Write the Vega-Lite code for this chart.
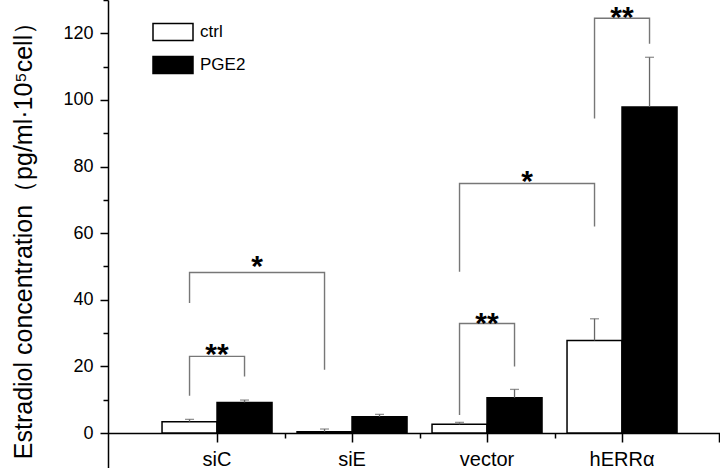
{
  "$schema": "https://vega.github.io/schema/vega-lite/v6.json",
  "width": 612,
  "height": 468,
  "autosize": {"type": "none"},
  "padding": {"left": 108, "top": 0, "right": 0, "bottom": 0},
  "background": "white",
  "config": {
    "view": {"stroke": null},
    "font": "Liberation Sans",
    "axis": {"grid": false, "labelFont": "Liberation Sans", "titleFont": "Liberation Sans", "domainColor": "black", "tickColor": "black", "labelColor": "black", "titleColor": "black"}
  },
  "datasets": {
    "bars": [
      {"cond": "siC", "group": "ctrl", "value": 3.4, "err": 4.1},
      {"cond": "siC", "group": "PGE2", "value": 9.2, "err": 9.9},
      {"cond": "siE", "group": "ctrl", "value": 0.4, "err": 1.2},
      {"cond": "siE", "group": "PGE2", "value": 4.9, "err": 5.6},
      {"cond": "vector", "group": "ctrl", "value": 2.6, "err": 3.2},
      {"cond": "vector", "group": "PGE2", "value": 10.6, "err": 13.1},
      {"cond": "hERRα", "group": "ctrl", "value": 27.8, "err": 34.3},
      {"cond": "hERRα", "group": "PGE2", "value": 97.9, "err": 112.8}
    ],
    "brackets": [
      {"id": 1, "k": 1, "cond": "siC", "group": "ctrl", "y": 11.2},
      {"id": 1, "k": 2, "cond": "siC", "group": "ctrl", "y": 23.0},
      {"id": 1, "k": 3, "cond": "siC", "group": "PGE2", "y": 23.0},
      {"id": 1, "k": 4, "cond": "siC", "group": "PGE2", "y": 17.0},
      {"id": 2, "k": 1, "cond": "siC", "group": "ctrl", "y": 39.0},
      {"id": 2, "k": 2, "cond": "siC", "group": "ctrl", "y": 48.2},
      {"id": 2, "k": 3, "cond": "siE", "group": "ctrl", "y": 48.2},
      {"id": 2, "k": 4, "cond": "siE", "group": "ctrl", "y": 19.0},
      {"id": 3, "k": 1, "cond": "vector", "group": "ctrl", "y": 5.4},
      {"id": 3, "k": 2, "cond": "vector", "group": "ctrl", "y": 32.9},
      {"id": 3, "k": 3, "cond": "vector", "group": "PGE2", "y": 32.9},
      {"id": 3, "k": 4, "cond": "vector", "group": "PGE2", "y": 20.0},
      {"id": 4, "k": 1, "cond": "vector", "group": "ctrl", "y": 48.4},
      {"id": 4, "k": 2, "cond": "vector", "group": "ctrl", "y": 74.9},
      {"id": 4, "k": 3, "cond": "hERRα", "group": "ctrl", "y": 74.9},
      {"id": 4, "k": 4, "cond": "hERRα", "group": "ctrl", "y": 62.0},
      {"id": 5, "k": 1, "cond": "hERRα", "group": "ctrl", "y": 94.4},
      {"id": 5, "k": 2, "cond": "hERRα", "group": "ctrl", "y": 124.5},
      {"id": 5, "k": 3, "cond": "hERRα", "group": "PGE2", "y": 124.5},
      {"id": 5, "k": 4, "cond": "hERRα", "group": "PGE2", "y": 116.9}
    ],
    "stars2": [
      {"cond": "siC", "y": 25.9, "label": "**"},
      {"cond": "vector", "y": 35.1, "label": "**"},
      {"cond": "hERRα", "y": 126.9, "label": "**"}
    ],
    "stars1": [
      {"cond": "siC", "group": "PGE2", "y": 52.2, "label": "*"},
      {"cond": "vector", "group": "PGE2", "y": 77.7, "label": "*"}
    ]
  },
  "resolve": {"scale": {"x": "shared", "y": "shared", "xOffset": "shared"}, "axis": {"x": "independent", "y": "independent"}},
  "layer": [
    {
      "data": {"name": "bars"},
      "mark": {"type": "bar", "stroke": "black", "strokeWidth": 1.5},
      "encoding": {
        "x": {"field": "cond", "type": "nominal", "sort": ["siC", "siE", "vector", "hERRα"],
          "scale": {"domain": ["siC", "siE", "vector", "hERRα"], "paddingInner": 0.1852, "paddingOuter": 0.3593, "align": 0.557},
          "axis": {"orient": "bottom", "offset": -35, "title": null, "labelAngle": 0, "labelFontSize": 20, "labelPadding": 7, "tickSize": 9, "tickWidth": 1.5, "domainWidth": 1.5}},
        "xOffset": {"field": "group", "type": "nominal", "sort": ["ctrl", "PGE2"], "scale": {"domain": ["ctrl", "PGE2"], "paddingInner": 0, "paddingOuter": 0}},
        "y": {"field": "value", "type": "quantitative",
          "scale": {"domain": [-10.5, 130], "nice": false, "zero": false},
          "axis": {"orient": "left", "values": [0, 20, 40, 60, 80, 100, 120], "title": "Estradiol concentration（pg/ml·10⁵cell）", "titleFontSize": 25, "titleFontWeight": "normal", "titlePadding": 26, "labelFontSize": 18, "labelPadding": 7, "tickSize": 8, "tickWidth": 1.5, "domainWidth": 1.5}},
        "fill": {"field": "group", "type": "nominal", "sort": ["ctrl", "PGE2"],
          "scale": {"domain": ["ctrl", "PGE2"], "range": ["white", "black"]},
          "legend": {"orient": "none", "legendX": 44, "legendY": 11, "title": null, "padding": 0,
            "symbolType": "M-1,-0.42H1V0.42H-1Z", "symbolSize": 1600, "symbolStrokeColor": "black", "symbolStrokeWidth": 1.5,
            "labelFontSize": 17, "labelFont": "Liberation Sans", "labelColor": "black", "labelOffset": 6, "rowPadding": -6}}
      }
    },
    {
      "data": {"name": "bars"},
      "mark": {"type": "rule", "color": "#666", "strokeWidth": 1.3},
      "encoding": {
        "x": {"field": "cond", "type": "nominal", "sort": ["siC", "siE", "vector", "hERRα"],
          "axis": {"orient": "bottom", "offset": -35, "values": ["siC", "siE", "vector"], "bandPosition": 1, "tickOffset": 12.5, "labels": false, "domain": false, "tickSize": 5, "tickWidth": 1.5, "title": null}},
        "xOffset": {"field": "group", "type": "nominal", "sort": ["ctrl", "PGE2"]},
        "y": {"field": "value", "type": "quantitative",
          "axis": {"orient": "left", "values": [10, 30, 50, 70, 90, 110, 130], "labels": false, "domain": false, "tickSize": 5, "tickWidth": 1.5, "title": null}},
        "y2": {"field": "err"}
      }
    },
    {
      "data": {"name": "bars"},
      "mark": {"type": "tick", "color": "#666", "thickness": 1.3, "size": 9, "orient": "horizontal"},
      "encoding": {
        "x": {"field": "cond", "type": "nominal", "sort": ["siC", "siE", "vector", "hERRα"],
          "axis": {"orient": "bottom", "offset": -35, "values": ["hERRα"], "bandPosition": 1, "tickOffset": 42, "labels": false, "domain": false, "tickSize": 9, "tickWidth": 1.5, "title": null}},
        "xOffset": {"field": "group", "type": "nominal", "sort": ["ctrl", "PGE2"]},
        "y": {"field": "err", "type": "quantitative", "axis": null}
      }
    },
    {
      "data": {"name": "brackets"},
      "mark": {"type": "line", "color": "#777", "strokeWidth": 1.4, "interpolate": "linear"},
      "encoding": {
        "x": {"field": "cond", "type": "nominal", "sort": ["siC", "siE", "vector", "hERRα"], "axis": null},
        "xOffset": {"field": "group", "type": "nominal", "sort": ["ctrl", "PGE2"]},
        "y": {"field": "y", "type": "quantitative", "axis": null},
        "detail": {"field": "id", "type": "nominal"},
        "order": {"field": "k", "type": "quantitative"}
      }
    },
    {
      "data": {"name": "stars2"},
      "mark": {"type": "text", "fontSize": 30, "fontWeight": "bold", "baseline": "alphabetic", "dy": 17, "color": "black"},
      "encoding": {
        "x": {"field": "cond", "type": "nominal", "sort": ["siC", "siE", "vector", "hERRα"], "axis": null},
        "y": {"field": "y", "type": "quantitative", "axis": null},
        "text": {"field": "label"}
      }
    },
    {
      "data": {"name": "stars1"},
      "mark": {"type": "text", "fontSize": 30, "fontWeight": "bold", "baseline": "alphabetic", "dy": 17, "dx": 12.5, "color": "black"},
      "encoding": {
        "x": {"field": "cond", "type": "nominal", "sort": ["siC", "siE", "vector", "hERRα"], "axis": null},
        "xOffset": {"field": "group", "type": "nominal", "sort": ["ctrl", "PGE2"]},
        "y": {"field": "y", "type": "quantitative", "axis": null},
        "text": {"field": "label"}
      }
    }
  ]
}
